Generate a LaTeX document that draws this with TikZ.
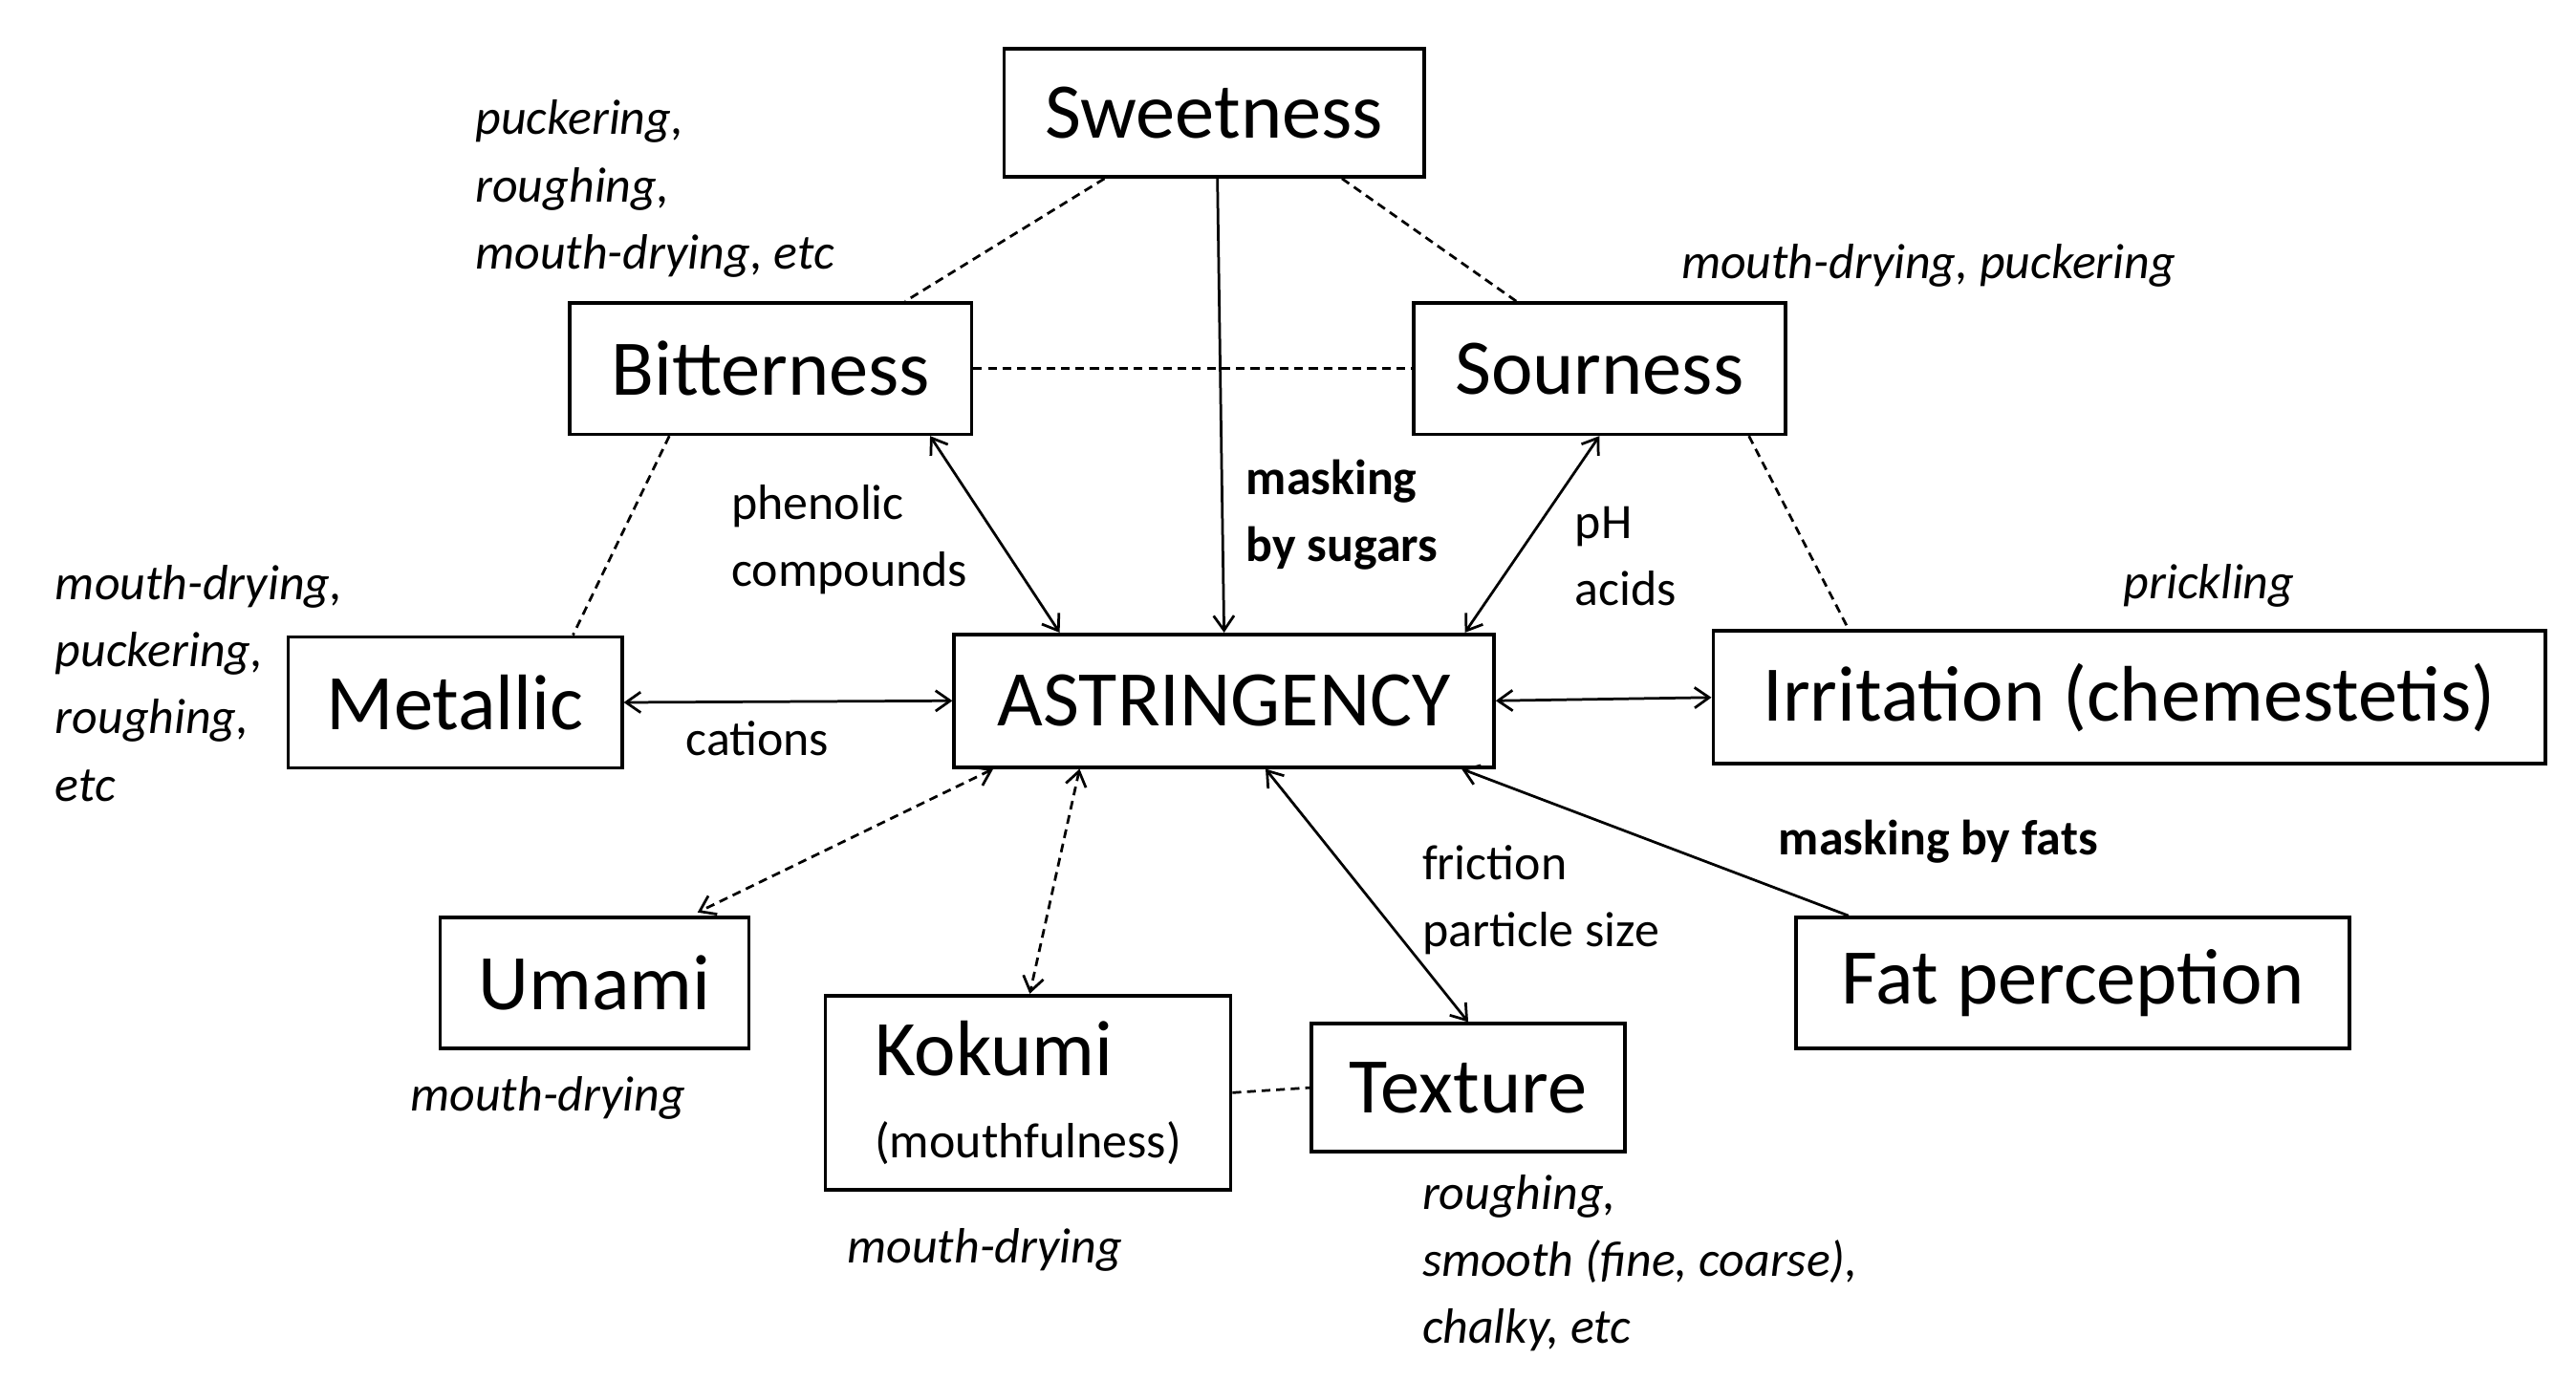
\documentclass[tikz,border=0pt]{standalone}
\usepackage{fontspec}
\setmainfont{Carlito}
\usetikzlibrary{arrows.meta,calc}
\begin{document}
\begin{tikzpicture}[x=0.02cm,y=-0.02cm,
  box/.style={draw,line width=1.2pt,inner sep=0pt,font=\fontsize{27}{32}\selectfont},
  lab/.style={inner sep=0pt,font=\fontsize{17}{23}\selectfont,align=left},
  it/.style={lab,font=\fontsize{17}{23}\selectfont\itshape},
  bf/.style={lab,font=\fontsize{17}{23}\selectfont\bfseries},
  ln/.style={line width=0.9pt},
  dsh/.style={ln,dash pattern=on 3pt off 2pt},
  >={Straight Barb[length=5pt,width=7pt]}]
\useasboundingbox (0,0) rectangle (1551,831);
\node[box,minimum width=253*0.02cm,minimum height=77*0.02cm] (sw) at (731,68) {Sweetness};
\node[box,minimum width=242*0.02cm,minimum height=79*0.02cm] (bi) at (464,222) {Bitterness};
\node[box,minimum width=224*0.02cm,minimum height=79*0.02cm] (so) at (963,222) {Sourness};
\node[box,minimum width=201*0.02cm,minimum height=79*0.02cm] (me) at (274,423) {Metallic};
\node[box,minimum width=325*0.02cm,minimum height=80*0.02cm] (as) at (737,422) {ASTRINGENCY};
\node[box,minimum width=501*0.02cm,minimum height=80*0.02cm] (ir) at (1282,420) {Irritation (chemestetis)};
\node[box,minimum width=186*0.02cm,minimum height=79*0.02cm] (um) at (358,592) {Umami};
\node[box,minimum width=244*0.02cm,minimum height=117*0.02cm,align=left] (ko) at (619,658) {Kokumi\\[-4pt]{\fontsize{17}{23}\selectfont(mouthfulness)}};
\node[box,minimum width=189*0.02cm,minimum height=77*0.02cm] (tx) at (884,655) {Texture};
\node[box,minimum width=333*0.02cm,minimum height=79*0.02cm] (fa) at (1248,592) {Fat perception};

\draw[dsh] ($(sw.south)+(-66,0)$) -- ($(bi.north)+(81,0)$);
\draw[dsh] ($(sw.south)+(77,0)$) -- ($(so.north)+(-50,0)$);
\draw[ln,->] ($(sw.south)+(2,0)$) -- (as.north);
\draw[dsh] (bi.east) -- (so.west);
\draw[ln,<->] ($(bi.south)+(96,0)$) -- ($(as.north)+(-99,0)$);
\draw[ln,<->] (so.south) -- ($(as.north)+(145,0)$);
\draw[dsh] ($(bi.south)+(-61,0)$) -- ($(me.north)+(71,0)$);
\draw[dsh] ($(so.south)+(90,0)$) -- ($(ir.north)+(-169,0)$);
\draw[ln,<->] (me.east) -- (as.west);
\draw[ln,<->] (as.east) -- (ir.west);
\draw[dsh,<->] ($(as.south)+(-139,0)$) -- ($(um.north)+(62,-2)$);
\draw[dsh,<->] ($(as.south)+(-87,0)$) -- ($(ko.north)+(1,0)$);
\draw[ln,<->] ($(as.south)+(25,0)$) -- (tx.north);
\draw[ln,->] ($(fa.north)+(-135,0)$) -- ($(as.south)+(143,0)$);
\draw[dsh] (ko.east) -- (tx.west);

\node[it,anchor=north west] (l1) at (286,60) {puckering,\\roughing,\\mouth-drying, etc};
\node[it,anchor=west] (l2) at (1012,160) {mouth-drying, puckering};
\node[lab,anchor=west] (l3) at (440,325) {phenolic\\compounds};
\node[bf,anchor=west] (l4) at (750,310) {masking\\by sugars};
\node[lab,anchor=west] (l5) at (948,335) {pH\\acids};
\node[it,anchor=north west] (l6) at (33,340) {mouth-drying,\\puckering,\\roughing,\\etc};
\node[lab] (l7) at (456,445) {cations};
\node[it] (l8) at (1330,353) {prickling};
\node[lab,anchor=west] (l9) at (856,542) {friction\\particle size};
\node[bf] (l10) at (1167,507) {masking by fats};
\node[it] (l11) at (330,661) {mouth-drying};
\node[it] (l12) at (593,753) {mouth-drying};
\node[it,anchor=north west] (l13) at (856,707) {roughing,\\smooth (fine, coarse),\\chalky, etc};
\end{tikzpicture}
\end{document}
